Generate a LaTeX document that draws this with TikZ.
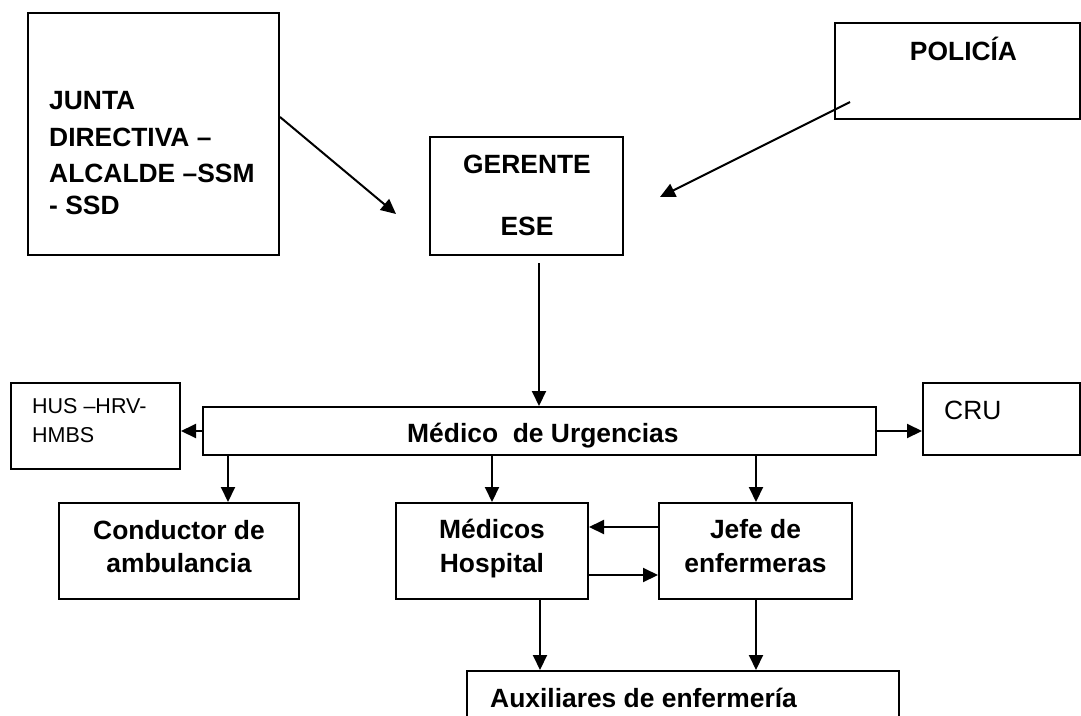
\documentclass[tikz,border=0pt]{standalone}
\usepackage{fontspec}
\setmainfont{Liberation Sans}
\usetikzlibrary{arrows.meta,calc}
\begin{document}
\begin{tikzpicture}[x=1pt,y=-1pt,
  box/.style={draw, line width=2pt, rectangle, inner sep=0pt, anchor=center},
  arr/.style={line width=2pt, -{Triangle[length=15pt,width=14pt]}},
  bt/.style={inner sep=0pt, font=\fontsize{26.4pt}{31pt}\selectfont\bfseries},
  rt/.style={inner sep=0pt, font=\fontsize{26.4pt}{31pt}\selectfont},
  st/.style={inner sep=0pt, font=\fontsize{21.5pt}{26pt}\selectfont}]
\useasboundingbox (0,0) rectangle (1081,715);
\clip (0,0) rectangle (1081,715);
% boxes
\node[box, minimum width=251pt, minimum height=242pt] (junta) at (153.5,134) {};
\node[box, minimum width=245pt, minimum height=96pt] (policia) at (957.5,71) {};
\node[box, minimum width=193pt, minimum height=118pt] (gerente) at (526.5,196) {};
\node[box, minimum width=169pt, minimum height=86pt] (hus) at (95.5,426) {};
\node[box, minimum width=673pt, minimum height=48pt] (medico) at (539.5,431) {};
\node[box, minimum width=157pt, minimum height=72pt] (cru) at (1001.5,419) {};
\node[box, minimum width=240pt, minimum height=96pt] (conductor) at (179,551) {};
\node[box, minimum width=192pt, minimum height=96pt] (medicos) at (492,551) {};
\node[box, minimum width=193pt, minimum height=96pt] (jefe) at (755.5,551) {};
\node[box, minimum width=432pt, minimum height=80pt] (aux) at (683,711) {};
% texts
\node[bt, anchor=base west] (tj1) at (49,109) {JUNTA};
\node[bt, anchor=base west] (tj2) at (49,146) {DIRECTIVA –};
\node[bt, anchor=base west] (tj3) at (49,182) {ALCALDE –SSM};
\node[bt, anchor=base west] (tj4) at (49,214) {- SSD};
\node[bt, anchor=base] (tp) at (963.5,60) {POLICÍA};
\node[bt, anchor=base] (tg1) at (527,173) {GERENTE};
\node[bt, anchor=base] (tg2) at (527,235) {ESE};
\node[st, anchor=base west] (th1) at (32,413) {HUS –HRV-};
\node[st, anchor=base west] (th2) at (32,442) {HMBS};
\node[bt, anchor=base west] (tm) at (407,442) {Médico\ \ de Urgencias};
\node[rt, anchor=base west] (tc) at (944,419) {CRU};
\node[bt, anchor=base] (tco1) at (179,539) {Conductor de};
\node[bt, anchor=base] (tco2) at (179,572) {ambulancia};
\node[bt, anchor=base] (tmh1) at (492,538) {Médicos};
\node[bt, anchor=base] (tmh2) at (492,572) {Hospital};
\node[bt, anchor=base] (tje1) at (755.5,538) {Jefe de};
\node[bt, anchor=base] (tje2) at (755.5,572) {enfermeras};
\node[bt, anchor=base west] (ta) at (490,707) {Auxiliares de enfermería};
% helper coordinates
\coordinate (jend) at (396,214);
\coordinate (pend) at (660,197);
\coordinate (gs) at (539,263);
\coordinate (xa) at (228,0);
\coordinate (xb) at (540,0);
\coordinate (xc) at (756,0);
\coordinate (ya) at (0,527);
\coordinate (yb) at (0,575);
\coordinate (yc) at (0,431);
% connectors
\draw[arr] ($(junta.east)+(0,-17)$) -- (jend);
\draw[arr] ($(policia.west)+(16,31)$) -- (pend);
\draw[arr] (gs) -- (medico.north -| gs);
\draw[arr] (medico.west |- yc) -- (hus.east |- yc);
\draw[arr] (medico.east |- yc) -- (cru.west |- yc);
\draw[arr] (medico.south -| xa) -- (conductor.north -| xa);
\draw[arr] (medico.south -| medicos.north) -- (medicos.north);
\draw[arr] (medico.south -| xc) -- (jefe.north -| xc);
\draw[arr] (jefe.west |- ya) -- (medicos.east |- ya);
\draw[arr] (medicos.east |- yb) -- (jefe.west |- yb);
\draw[arr] (medicos.south -| xb) -- (aux.north -| xb);
\draw[arr] (jefe.south -| xc) -- (aux.north -| xc);
\end{tikzpicture}
\end{document}
